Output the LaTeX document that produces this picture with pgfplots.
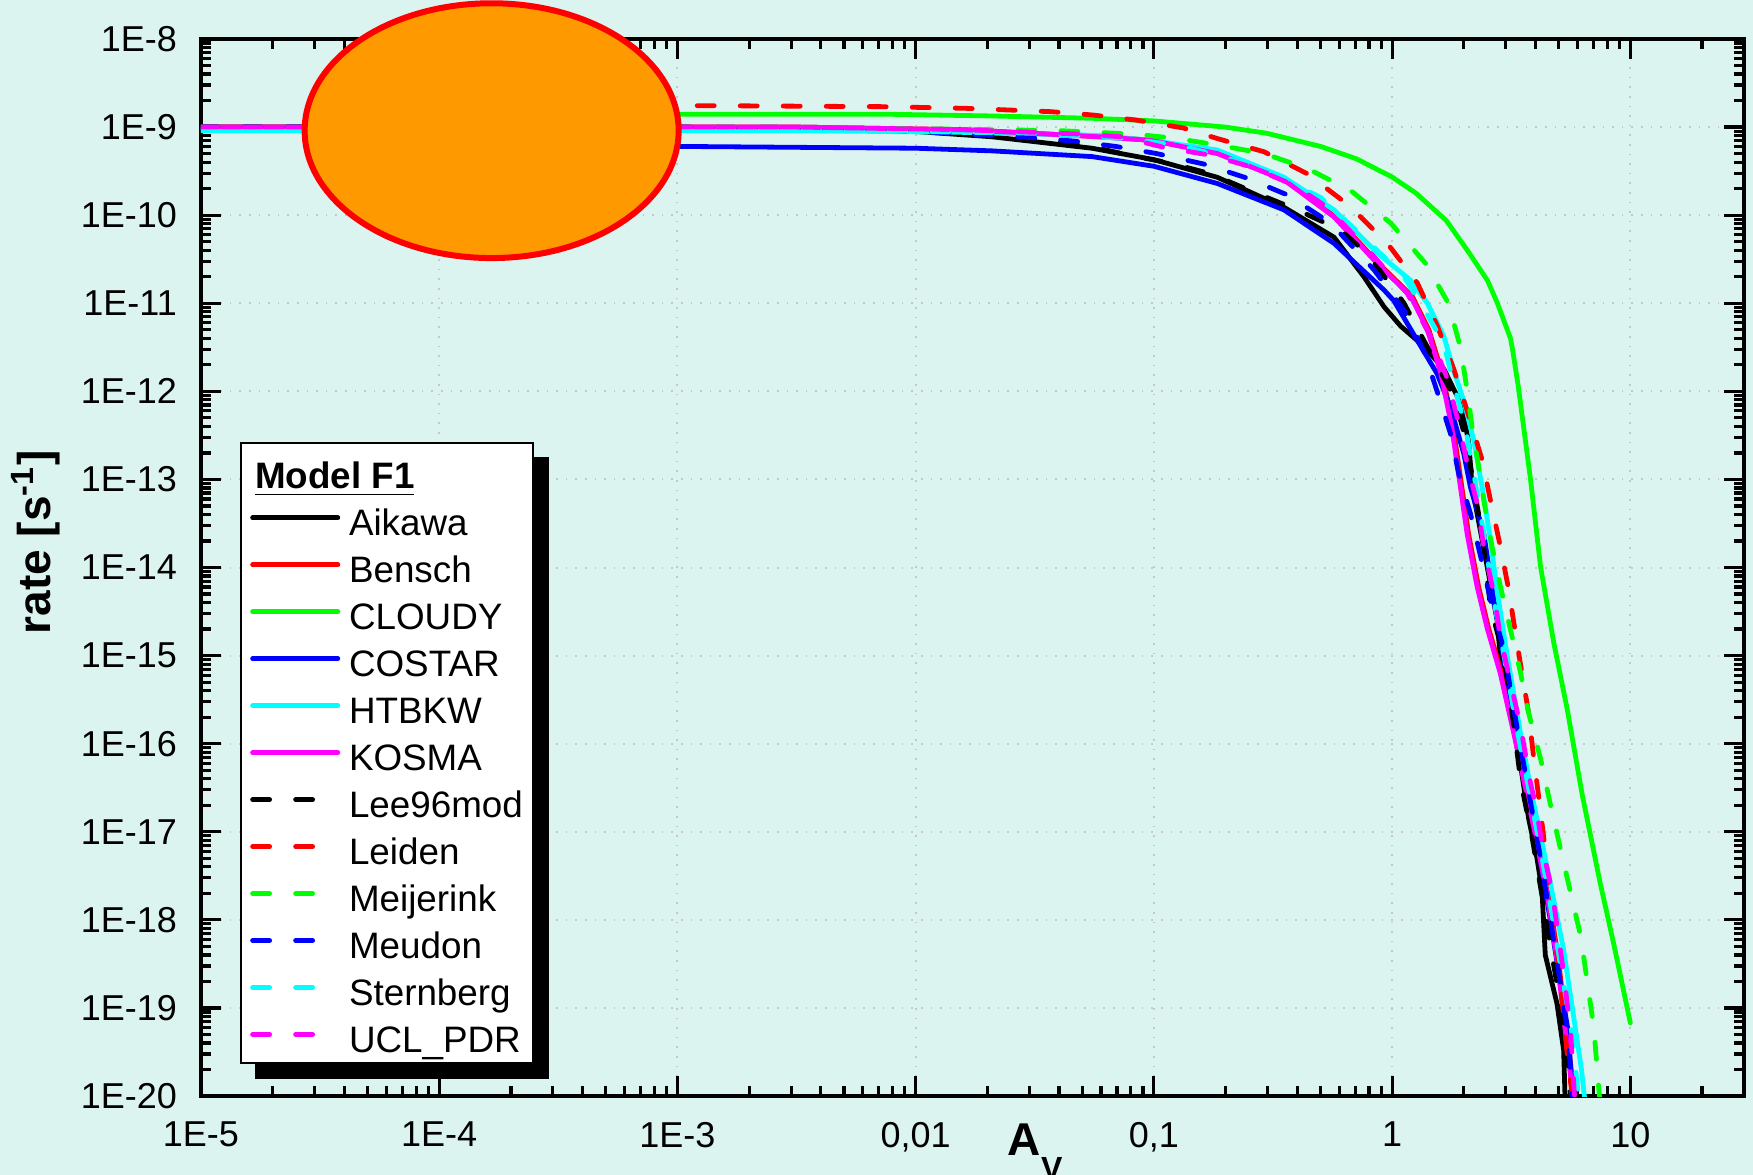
\documentclass[border=0pt]{standalone}
\usepackage{pgfplots}
\pgfplotsset{compat=1.18}
\usepackage{fontspec}
\setmainfont{Liberation Sans}
\definecolor{bgc}{RGB}{220,244,240}
\definecolor{orng}{RGB}{255,153,0}
\definecolor{gridc}{RGB}{195,200,200}
\definecolor{cyn}{RGB}{0,255,255}
\definecolor{mgt}{RGB}{255,0,255}
\definecolor{grn}{RGB}{0,255,0}
\definecolor{rd}{RGB}{255,0,0}
\definecolor{bl}{RGB}{0,0,255}
\pgfplotsset{
  sol/.style={line width=1.2pt, line join=round, line cap=round, no markers},
  dsh/.style={sol, dash pattern=on 4.25pt off 6.5pt},
}
\begin{document}
\begin{tikzpicture}[font=\fontsize{9}{11}\selectfont]
\fill[bgc] (-50.25pt,-19.75pt) rectangle (388pt,274pt);
\begin{axis}[
  at={(0pt,0pt)}, anchor=south west,
  scale only axis, width=385.75pt, height=264.25pt,
  xmode=log, ymode=log,
  xmin=1e-5, xmax=30, ymin=1e-20, ymax=1e-8,
  axis background/.style={fill=bgc},
  axis line style={line width=1.2pt},
  every tick/.style={line width=0.8pt, black},
  tick align=inside, tick pos=both,
  xticklabel pos=lower, yticklabel pos=left,
  major tick length=5pt, minor tick length=2.6pt,
  xtick={1e-5,1e-4,1e-3,1e-2,1e-1,1,10},
  xticklabels={1E-5,1E-4,1E-3,{0,01},{0,1},1,10},
  minor xtick={2e-5,3e-5,4e-5,5e-5,6e-5,7e-5,8e-5,9e-5,
    2e-4,3e-4,4e-4,5e-4,6e-4,7e-4,8e-4,9e-4,
    2e-3,3e-3,4e-3,5e-3,6e-3,7e-3,8e-3,9e-3,
    0.02,0.03,0.04,0.05,0.06,0.07,0.08,0.09,
    0.2,0.3,0.4,0.5,0.6,0.7,0.8,0.9,
    2,3,4,5,6,7,8,9,20},
  ytick={1e-20,1e-19,1e-18,1e-17,1e-16,1e-15,1e-14,1e-13,1e-12,1e-11,1e-10,1e-9,1e-8},
  yticklabels={1E-20,1E-19,1E-18,1E-17,1E-16,1E-15,1E-14,1E-13,1E-12,1E-11,1E-10,1E-9,1E-8},
  minor ytick={2e-20,3e-20,4e-20,5e-20,6e-20,7e-20,8e-20,9e-20,
    2e-19,3e-19,4e-19,5e-19,6e-19,7e-19,8e-19,9e-19,
    2e-18,3e-18,4e-18,5e-18,6e-18,7e-18,8e-18,9e-18,
    2e-17,3e-17,4e-17,5e-17,6e-17,7e-17,8e-17,9e-17,
    2e-16,3e-16,4e-16,5e-16,6e-16,7e-16,8e-16,9e-16,
    2e-15,3e-15,4e-15,5e-15,6e-15,7e-15,8e-15,9e-15,
    2e-14,3e-14,4e-14,5e-14,6e-14,7e-14,8e-14,9e-14,
    2e-13,3e-13,4e-13,5e-13,6e-13,7e-13,8e-13,9e-13,
    2e-12,3e-12,4e-12,5e-12,6e-12,7e-12,8e-12,9e-12,
    2e-11,3e-11,4e-11,5e-11,6e-11,7e-11,8e-11,9e-11,
    2e-10,3e-10,4e-10,5e-10,6e-10,7e-10,8e-10,9e-10,
    2e-9,3e-9,4e-9,5e-9,6e-9,7e-9,8e-9,9e-9},
  grid=major,
  major grid style={dotted, gridc, line width=0.5pt},
  yticklabel style={font=\fontsize{9}{11}\selectfont, xshift=-2.5pt},
  xticklabel style={font=\fontsize{9}{11}\selectfont, yshift=-3pt},
  ylabel={\textbf{rate [s\textsuperscript{-1}]}},
  ylabel style={font=\fontsize{11.5}{13}\selectfont, at={(axis description cs:-0.107,0.524)}, anchor=center},
  xlabel={\textbf{A\raisebox{-6pt}{\fontsize{8}{8}\selectfont V}}},
  xlabel style={font=\fontsize{11.5}{13}\selectfont, at={(axis description cs:0.5224,-0.0255)}, anchor=north west, inner sep=0pt},
  legend cell align=left,
  legend image code/.code={\path (0pt,0pt); \draw[#1] (1.3pt,0pt) -- (22.6pt,0pt);},
  legend style={name=L, at={(axis description cs:0.0253,0.619)}, anchor=north west,
    draw=black, line width=0.5pt, fill=white,
    font=\fontsize{9.2}{11}\selectfont,
    row sep=1.04pt, column sep=0.8pt, inner xsep=1.0pt, inner ysep=1.7pt,
    nodes={text height=9.2pt, text depth=0.3pt, inner ysep=0.6pt, inner xsep=1.4pt}},
]
\addlegendimage{empty legend}
\addlegendentry{\hspace*{-23.5pt}\textbf{\underline{Model F1}}}

% Aikawa
\addplot[sol, black] coordinates {
(1e-5,1e-9) (1e-3,1e-9) (3.162e-3,9.772e-10) (0.01,8.913e-10) (2.089e-2,7.762e-10)
(5.495e-2,5.754e-10) (0.1,4.266e-10) (0.1845,2.692e-10) (0.3516,1.230e-10) (0.5702,5.623e-11)
(0.7621,1.995e-11) (0.9247,9.120e-12) (1.0864,5.495e-12) (1.3614,3.236e-12) (1.6520,1.778e-12)
(1.8793,8.710e-13) (1.9953,5.623e-13) (2.099,2.512e-13) (2.168,8.128e-14) (2.275,4.074e-14)
(2.506,1.023e-14) (2.761,2.512e-15) (2.851,8.913e-16) (3.243,1.445e-16) (3.508,4.467e-17)
(3.741,1.413e-17) (4.055,5.012e-18) (4.256,2.188e-18) (4.395,3.981e-19) (4.920,1.122e-19)
(5.248,3.311e-20) (5.346,6.310e-21)};
\addlegendentry{Aikawa}

% Bensch
\addplot[sol, rd] coordinates {
(1e-5,1e-9) (3.162e-3,1e-9) (1.607e-2,9.333e-10) (5.970e-2,7.762e-10) (9.819e-2,7.079e-10)
(0.1871,5.012e-10) (0.3565,2.512e-10) (0.5782,9.550e-11) (0.8791,2.818e-11) (1.214,1.202e-11)
(1.426,5.012e-12) (1.622,1.622e-12) (1.803,3.981e-13) (1.963,8.128e-14) (2.094,2.399e-14)
(2.307,6.026e-15) (2.547,1.995e-15) (2.884,6.310e-16) (3.335,1.096e-16) (3.981,1.148e-17)
(4.529,1.995e-18) (4.989,3.548e-19) (5.321,7.943e-20) (5.702,1.585e-20) (5.902,6.310e-21)};
\addlegendentry{Bensch}

% CLOUDY
\addplot[sol, grn] coordinates {
(1e-4,1.396e-9) (7.943e-3,1.396e-9) (2.089e-2,1.337e-9) (5.495e-2,1.259e-9) (0.1,1.175e-9)
(0.1995,1.0e-9) (0.2972,8.511e-10) (0.5012,6.026e-10) (0.7079,4.365e-10) (1,2.710e-10)
(1.259,1.778e-10) (1.687,8.710e-11) (2.070,3.981e-11) (2.512,1.820e-11) (2.767,1e-11)
(3.141,3.981e-12) (3.214,2.818e-12) (3.388,1.122e-12) (3.811,1e-13) (4.198,1.023e-14)
(4.775,1.380e-15) (5.433,2.455e-16) (6.281,2.630e-17) (7.482,2.570e-18) (8.511,5.370e-19)
(10,6.761e-20)};
\addlegendentry{CLOUDY}

% COSTAR
\addplot[sol, bl] coordinates {
(1e-4,6.026e-10) (1.047e-3,6.026e-10) (0.01,5.754e-10) (2.089e-2,5.370e-10) (5.495e-2,4.624e-10)
(0.1,3.589e-10) (0.1845,2.291e-10) (0.3516,1.148e-10) (0.5702,4.786e-11) (0.9247,1.413e-11)
(1.016,1.072e-11) (1.274,3.802e-12) (1.545,1.585e-12) (1.758,6.607e-13) (2.000,1.950e-13)
(2.133,8.128e-14) (2.427,2.399e-14) (2.673,4.266e-15) (2.897,1.175e-15) (3.243,2.042e-16)
(3.690,2.754e-17) (4.169,5.012e-18) (4.613,1e-18) (5.070,1.995e-19) (5.508,5.012e-20)
(5.754,6.310e-21)};
\addlegendentry{COSTAR}

% HTBKW
\addplot[sol, cyn] coordinates {
(1e-5,9.120e-10) (3.162e-3,9.120e-10) (1.585e-2,8.710e-10) (5.888e-2,8.035e-10) (9.683e-2,7.079e-10)
(0.1845,5.495e-10) (0.3516,2.692e-10) (0.5702,1.148e-10) (0.8670,3.715e-11) (1.197,1.820e-11)
(1.406,1e-11) (1.652,4.169e-12) (1.816,1.698e-12) (2.000,7.762e-13) (2.203,2.754e-13)
(2.388,8.128e-14) (2.588,2.042e-14) (2.761,5.370e-15) (3.041,1e-15) (3.459,1.318e-16)
(3.873,2.512e-17) (4.325,6.166e-18) (4.764,1.698e-18) (5.248,4.571e-19) (5.781,7.943e-20)
(6.237,1.995e-20) (6.531,6.310e-21)};
\addlegendentry{HTBKW}

% KOSMA
\addplot[sol, mgt] coordinates {
(1e-5,1e-9) (3.162e-3,1e-9) (1.585e-2,9.333e-10) (5.888e-2,7.762e-10) (9.683e-2,7.079e-10)
(0.1845,5.012e-10) (0.3516,2.512e-10) (0.5702,9.550e-11) (0.8670,2.818e-11) (1.197,1.202e-11)
(1.406,5.012e-12) (1.600,1.622e-12) (1.778,3.981e-13) (1.936,8.128e-14) (2.065,2.399e-14)
(2.275,6.026e-15) (2.512,1.995e-15) (2.844,6.310e-16) (3.289,1.096e-16) (3.926,1.148e-17)
(4.467,1.995e-18) (4.920,3.548e-19) (5.248,7.943e-20) (5.623,1.585e-20) (5.821,6.310e-21)};
\addlegendentry{KOSMA}

% Lee96mod
\addplot[dsh, black] coordinates {
(1e-5,1e-9) (1e-3,1e-9) (0.01,9.120e-10) (3.388e-2,7.244e-10) (5.012e-2,6.310e-10)
(7.586e-2,4.898e-10) (0.1175,3.890e-10) (0.1730,2.951e-10) (0.2630,1.820e-10) (0.3999,1.148e-10)
(0.6081,6.761e-11) (0.7943,3.548e-11) (1.122,1e-11) (1.500,2.291e-12) (1.820,8.710e-13)
(2.065,2.512e-13) (2.203,8.128e-14) (2.388,2.399e-14) (2.588,3.548e-15) (2.944,9.772e-16)
(3.243,1.585e-16) (3.459,3.890e-17) (3.890,7.943e-18) (4.365,1.259e-18) (4.898,1.995e-19)
(5.370,3.981e-20) (5.689,6.310e-21)};
\addlegendentry{Lee96mod}

% Leiden
\addplot[dsh, rd] coordinates {
(1e-4,1.750e-9) (1.380e-3,1.750e-9) (7.145e-3,1.706e-9) (1.626e-2,1.633e-9) (3.698e-2,1.496e-9)
(5.534e-2,1.371e-9) (8.414e-2,1.202e-9) (0.1327,9.772e-10) (0.1845,7.413e-10) (0.2897,5.248e-10)
(0.4406,2.951e-10) (0.6592,1.288e-10) (0.9550,4.786e-11) (1.276,1.698e-11) (1.549,5.495e-12)
(1.816,1.778e-12) (2.065,6.026e-13) (2.388,1.660e-13) (2.588,5.754e-14) (2.851,1.698e-14)
(3.090,5.495e-15) (3.296,1.778e-15) (3.508,6.310e-16) (3.741,2.239e-16) (3.926,7.079e-17)
(4.121,2.512e-17) (4.325,8.913e-18) (4.688,1e-18) (5.012,2.951e-19) (5.420,3.162e-20)
(5.821,6.310e-21)};
\addlegendentry{Leiden}

% Meijerink
\addplot[dsh, grn] coordinates {
(1e-5,1e-9) (3.162e-3,1e-9) (3.981e-2,9.120e-10) (8.318e-2,8.318e-10) (0.1253,7.413e-10)
(0.1905,6.166e-10) (0.2897,5.012e-10) (0.4406,3.388e-10) (0.6699,1.905e-10) (0.9863,8.128e-11)
(1.384,2.818e-11) (1.722,1e-11) (1.936,3.162e-12) (2.065,1.023e-12) (2.168,3.890e-13)
(2.275,1.778e-13) (2.427,5.754e-14) (2.630,1.698e-14) (2.851,6.026e-15) (3.141,1.950e-15)
(3.451,6.607e-16) (3.741,2.239e-16) (4.207,6.607e-17) (4.634,1.950e-17) (5.105,6.166e-18)
(5.623,1.995e-18) (6.194,6.457e-19) (6.607,1.905e-19) (7.015,6.166e-20) (7.278,1.862e-20)
(7.516,6.310e-21)};
\addlegendentry{Meijerink}

% Meudon
\addplot[dsh, bl] coordinates {
(1e-5,1e-9) (1e-3,1e-9) (7.943e-3,9.120e-10) (1.380e-2,8.511e-10) (3.020e-2,7.586e-10)
(4.677e-2,6.918e-10) (6.918e-2,6.026e-10) (0.1023,5.012e-10) (0.1622,3.802e-10) (0.2466,2.630e-10)
(0.3631,1.698e-10) (0.5521,8.128e-11) (0.8395,2.399e-11) (1.122,8.318e-12) (1.358,2.884e-12)
(1.545,1e-12) (1.758,3.311e-13) (1.905,1.148e-13) (2.133,4.074e-14) (2.388,1.122e-14)
(2.630,3.548e-15) (2.944,1.175e-15) (3.243,2.455e-16) (3.690,3.548e-17) (4.169,5.623e-18)
(4.624,1e-18) (5.070,1.995e-19) (5.495,4.467e-20) (5.754,6.310e-21)};
\addlegendentry{Meudon}

% Sternberg
\addplot[dsh, cyn] coordinates {
(1e-5,9.333e-10) (3.162e-3,9.333e-10) (3.162e-2,8.511e-10) (7.586e-2,7.413e-10) (0.1294,6.166e-10)
(0.1968,4.571e-10) (0.3090,3.090e-10) (0.5012,1.585e-10) (0.7943,5.012e-11) (1.122,1.995e-11)
(1.380,8.128e-12) (1.648,3.467e-12) (1.816,1.202e-12) (2.032,3.890e-13) (2.203,1.148e-13)
(2.427,2.399e-14) (2.673,4.266e-15) (2.951,1e-15) (3.350,1.413e-16) (3.802,2.512e-17)
(4.266,5.012e-18) (4.732,1e-18) (5.188,2.239e-19) (5.689,5.012e-20) (6.166,6.310e-21)};
\addlegendentry{Sternberg}

% UCL_PDR
\addplot[dsh, mgt] coordinates {
(1e-5,1e-9) (3.162e-3,1e-9) (1.585e-2,9.333e-10) (5.012e-2,8.318e-10) (7.244e-2,7.762e-10)
(0.1102,5.888e-10) (0.1730,4.786e-10) (0.2547,3.548e-10) (0.3873,2.188e-10) (0.5346,1.230e-10)
(0.7943,3.981e-11) (1.159,1.288e-11) (1.452,4.169e-12) (1.702,1.413e-12) (1.905,4.266e-13)
(2.065,1.514e-13) (2.275,5.248e-14) (2.427,1.698e-14) (2.673,5.012e-15) (2.851,1.585e-15)
(3.141,4.898e-16) (3.459,1.585e-16) (3.811,3.548e-17) (3.990,2.089e-17) (4.365,5.012e-18)
(4.688,2.188e-18) (5.248,2.455e-19) (5.623,5.012e-20) (5.888,6.310e-21)};
\addlegendentry{UCL\_PDR}

\coordinate (ec) at (axis cs:1.66e-4,9.1e-10);
\end{axis}
% legend shadow (two strips outside the white box)
\fill[black] ([shift={(0pt,-3.75pt)}]L.north east) rectangle ([shift={(3.75pt,-3.75pt)}]L.south east);
\fill[black] ([shift={(3.75pt,0pt)}]L.south west) rectangle ([shift={(3.75pt,-3.75pt)}]L.south east);
\fill[orng, draw=rd, line width=1.5pt] (ec) ellipse [x radius=46.75pt, y radius=31.85pt];
\pgfresetboundingbox
\path[use as bounding box] (-50.25pt,-19.75pt) rectangle (388pt,274pt);
\end{tikzpicture}
\end{document}
